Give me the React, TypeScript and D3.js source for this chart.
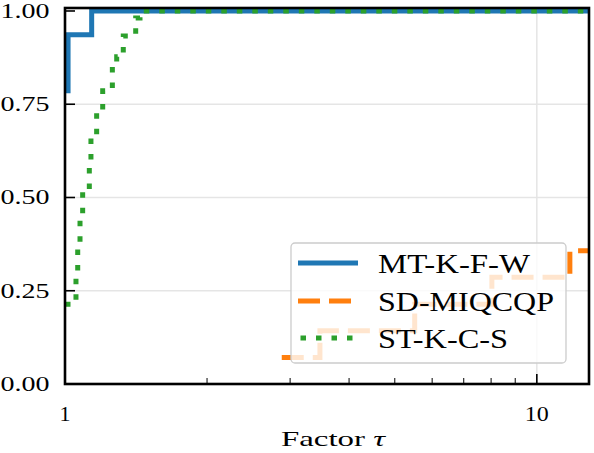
import React from "react";
import * as d3 from "d3";

// Series: breakpoints (tau) and step values
const mtTau = [1.0, 1.015, 1.139];
const mtValues = [0.786, 0.936, 1.0];

const sdTau = [2.88, 3.47, 5.51, 8.03, 11.75];
const sdValues = [0.071, 0.143, 0.214, 0.286, 0.357];

const stTau = [1.0, 1.055, 1.064, 1.076, 1.09, 1.126, 1.135, 1.167, 1.202, 1.26, 1.287, 1.329, 1.412, 1.442];
const stValues = [0.214, 0.292, 0.37, 0.445, 0.515, 0.587, 0.66, 0.727, 0.786, 0.85, 0.877, 0.933, 0.981, 1.0];

const seriesNames = ["MT-K-F-W", "SD-MIQCQP", "ST-K-C-S"];
const yTickValues = [0, 0.25, 0.5, 0.75, 1.0];
const xMajorTicks = [1, 10];
const xMinorTicks = [2, 3, 4, 5, 6, 7, 8, 9];
const xLabel = "Factor ";
const tauMax = 12.9;

const W = 594;
const H = 453;
const L = 65;
const R = 589;
const T = 8;
const B = 384;

export default function App() {
  const x = d3.scaleLog().domain([1, tauMax]).range([L, R]);
  const y = d3.scaleLinear().domain([0, 1.008]).range([B, T]);

  const line = d3
    .line<[number, number]>()
    .x((d) => x(d[0]))
    .y((d) => y(d[1]))
    .curve(d3.curveStepAfter);

  const mk = (taus: number[], vals: number[]) => {
    const pts: [number, number][] = taus.map((t, i) => [t, vals[i]]);
    pts.push([tauMax, vals[vals.length - 1]]);
    return line(pts) || "";
  };

  const colors = ["#1f77b4", "#ff7f0e", "#2ca02c"];
  const dashes = ["none", "22 9", "5.5 10"];
  const font = "'Liberation Serif', 'DejaVu Serif', serif";

  const legX = 291;
  const legY = 243;
  const legW = 275;
  const legH = 120;
  const rows = [263, 301, 338];
  const legTextW = [152, 176, 130];

  return (
    <svg width={W} height={H} style={{ position: "absolute", left: 0, top: 0, background: "#fff" }}>
      <defs>
        <clipPath id="plotclip">
          <rect x={L} y={T} width={R - L} height={B - T} />
        </clipPath>
      </defs>
      {/* grid */}
      {yTickValues.slice(1, 4).map((v) => (
        <line key={"gy" + v} x1={L} x2={R} y1={y(v)} y2={y(v)} stroke="#e5e5e5" strokeWidth={1.5} />
      ))}
      <line x1={x(10)} x2={x(10)} y1={T} y2={B} stroke="#e5e5e5" strokeWidth={1.5} />

      {/* series */}
      <g clipPath="url(#plotclip)" fill="none" strokeWidth={5}>
        <path d={mk(mtTau, mtValues)} stroke={colors[0]} />
        <path d={mk(sdTau, sdValues)} stroke={colors[1]} strokeDasharray={dashes[1]} />
        <path d={mk(stTau, stValues)} stroke={colors[2]} strokeDasharray={dashes[2]} />
      </g>

      {/* ticks */}
      {yTickValues.map((v) => (
        <g key={"yt" + v}>
          <line x1={L} x2={L + 10} y1={y(v)} y2={y(v)} stroke="#000" strokeWidth={1.6} />
          <text
            x={49.5}
            y={y(v) + 7}
            textAnchor="end"
            fontFamily={font}
            fontSize={21}
            textLength={49}
            lengthAdjust="spacingAndGlyphs"
          >
            {v.toFixed(2)}
          </text>
        </g>
      ))}
      {xMajorTicks.map((t) => (
        <g key={"xt" + t}>
          <line x1={x(t)} x2={x(t)} y1={B} y2={B - 10} stroke="#000" strokeWidth={1.6} />
          <text
            x={x(t)}
            y={421}
            textAnchor="middle"
            fontFamily={font}
            fontSize={21}
            textLength={t === 1 ? 11 : 24}
            lengthAdjust="spacingAndGlyphs"
          >
            {t}
          </text>
        </g>
      ))}
      {xMinorTicks.map((t) => (
        <line key={"xm" + t} x1={x(t)} x2={x(t)} y1={B} y2={B - 6} stroke="#000" strokeWidth={1} />
      ))}

      {/* spines */}
      <rect x={L} y={T} width={R - L} height={B - T} fill="none" stroke="#000" strokeWidth={2.6} />

      {/* x label */}
      <text
        x={281}
        y={446}
        fontFamily={font}
        fontSize={21}
        textLength={104}
        lengthAdjust="spacingAndGlyphs"
      >
        {xLabel}
        <tspan fontStyle="italic">τ</tspan>
      </text>

      {/* legend */}
      <rect
        x={legX}
        y={legY}
        width={legW}
        height={legH}
        rx={4}
        fill="#fff"
        fillOpacity={0.8}
        stroke="#cccccc"
        strokeWidth={1.3}
      />
      {seriesNames.map((n, i) => (
        <g key={n}>
          <line
            x1={298}
            x2={358}
            y1={rows[i]}
            y2={rows[i]}
            stroke={colors[i]}
            strokeWidth={5}
            strokeDasharray={dashes[i]}
            strokeDashoffset={i === 2 ? -2.5 : 0}
          />
          <text
            x={378}
            y={rows[i] + 9.5}
            fontFamily={font}
            fontSize={27}
            textLength={legTextW[i]}
            lengthAdjust="spacingAndGlyphs"
          >
            {n}
          </text>
        </g>
      ))}
    </svg>
  );
}
